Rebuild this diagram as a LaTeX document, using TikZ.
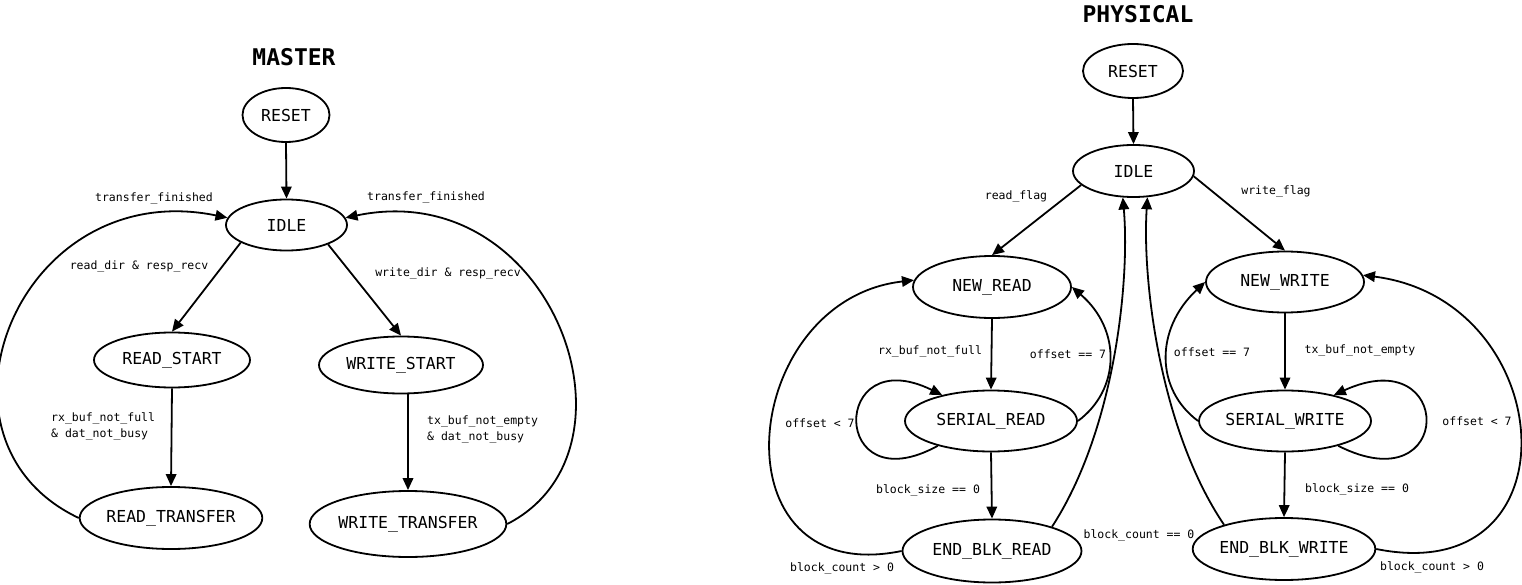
\documentclass[tikz,border=0pt]{standalone}
\usepackage{fontspec}
\setmainfont{DejaVu Sans Mono}
\usetikzlibrary{shapes.geometric,arrows.meta}
\begin{document}
\begin{tikzpicture}[x=1pt,y=-1pt,
  st/.style={draw, ellipse, line width=1.8pt, inner sep=0pt, font=\fontsize{16.5}{18}\selectfont},
  lbl/.style={font=\fontsize{11.5}{16}\selectfont, inner sep=0pt},
  tr/.style={draw, line width=1.8pt, -{Triangle[length=12pt,width=10.5pt]}},
  ttl/.style={font=\bfseries\fontsize{23}{26}\selectfont, inner sep=0pt}]
\useasboundingbox[fill=white] (0,0) rectangle (1522,585);

% ---------------- MASTER ----------------
\node[ttl] (mtitle) at (294,57) {MASTER};
\node[st, minimum width=87pt, minimum height=54pt] (mreset) at (286,115) {RESET};
\node[st, minimum width=121pt, minimum height=51pt] (midle) at (286.5,225) {IDLE};
\node[st, minimum width=156pt, minimum height=55pt] (mrs) at (172,360) {READ\_START};
\node[st, minimum width=164pt, minimum height=57pt] (mws) at (401,365) {WRITE\_START};
\node[st, minimum width=182pt, minimum height=62pt] (mrt) at (171,518) {READ\_TRANSFER};
\node[st, minimum width=188pt, minimum height=66pt] (mwt) at (408,524) {WRITE\_TRANSFER};

\draw[tr] (mreset.south) -- (midle.north);
\draw[tr] (midle.-159) -- (mrs.north);
\draw[tr] (midle.-25) -- (mws.north);
\draw[tr] (mrs.south) -- (mrt.north);
\draw[tr] (mws.south -| mwt.north) -- (mwt.north);
\draw[tr] (mrt.west) .. controls (-86,440) and (18,175) .. (midle.173);
\draw[tr] (mwt.east) .. controls (652,450) and (552,175) .. (midle.7);

\node[lbl] (l1) at (154,198) {transfer\_finished};
\node[lbl] (l2) at (426,197) {transfer\_finished};
\node[lbl] (l3) at (139,266) {read\_dir \& resp\_recv};
\node[lbl] (l4) at (448,273) {write\_dir \& resp\_recv};
\node[lbl, anchor=west, align=left] (l5) at (51,426) {rx\_buf\_not\_full\\\& dat\_not\_busy};
\node[lbl, anchor=west, align=left] (l6) at (427,429) {tx\_buf\_not\_empty\\\& dat\_not\_busy};

% ---------------- PHYSICAL ----------------
\node[ttl] (ptitle) at (1138,14) {PHYSICAL};
\node[st, minimum width=100pt, minimum height=54pt] (preset) at (1133,71) {RESET};
\node[st, minimum width=121pt, minimum height=52pt] (pidle) at (1133.5,171) {IDLE};
\node[st, minimum width=158pt, minimum height=62pt] (nr) at (992,287) {NEW\_READ};
\node[st, minimum width=158pt, minimum height=61pt] (nw) at (1285,282) {NEW\_WRITE};
\node[st, minimum width=172pt, minimum height=61pt] (sr) at (991,421) {SERIAL\_READ};
\node[st, minimum width=172pt, minimum height=61pt] (sw) at (1285,421) {SERIAL\_WRITE};
\node[st, minimum width=179pt, minimum height=63pt] (ebr) at (992,551) {END\_BLK\_READ};
\node[st, minimum width=180pt, minimum height=62pt] (ebw) at (1284,549) {END\_BLK\_WRITE};

\draw[tr] (preset.south) -- (pidle.north);
\draw[tr] (pidle.-165) -- (nr.north);
\draw[tr] (pidle.-5) -- (nw.north);
\draw[tr] (nr.south) -- (sr.north);
\draw[tr] (nw.south) -- (sw.north);
\draw[tr] (sr.south) -- (ebr.north);
\draw[tr] (sw.south) -- (ebw.north);
% offset == 7
\draw[tr] (sr.east) .. controls (1120,390) and (1122,330) .. (nr.east);
\draw[tr] (sw.west) .. controls (1156,390) and (1154,330) .. (nw.west);
% offset < 7 loops
\draw[tr] (sr.-155) .. controls (830,505) and (830,340) .. (sr.152);
\draw[tr] (sw.-25) .. controls (1455,505) and (1455,340) .. (sw.28);
% block_count > 0
\draw[tr] (ebr.west) .. controls (712,590) and (738,300) .. (nr.175);
\draw[tr] (ebw.east) .. controls (1580,590) and (1560,300) .. (nw.5);
% block_count == 0
\draw[tr] (ebr.22) .. controls (1115,430) and (1130,280) .. (pidle.-112);
\draw[tr] (ebw.158) .. controls (1160,430) and (1142,280) .. (pidle.-62);

\node[lbl] (p1) at (1016,196) {read\_flag};
\node[lbl] (p2) at (1276,191) {write\_flag};
\node[lbl] (p3) at (930,351) {rx\_buf\_not\_full};
\node[lbl] (p4) at (1068,354) {offset == 7};
\node[lbl] (p5) at (1212,352) {offset == 7};
\node[lbl] (p6) at (1360,350) {tx\_buf\_not\_empty};
\node[lbl] (p7) at (820,423) {offset < 7};
\node[lbl] (p8) at (1477,421) {offset < 7};
\node[lbl] (p9) at (928,490) {block\_size == 0};
\node[lbl] (p10) at (1357,489) {block\_size == 0};
\node[lbl] (p11) at (1139,535) {block\_count == 0};
\node[lbl] (p12) at (842,568) {block\_count > 0};
\node[lbl] (p13) at (1432,567) {block\_count > 0};
\end{tikzpicture}
\end{document}
